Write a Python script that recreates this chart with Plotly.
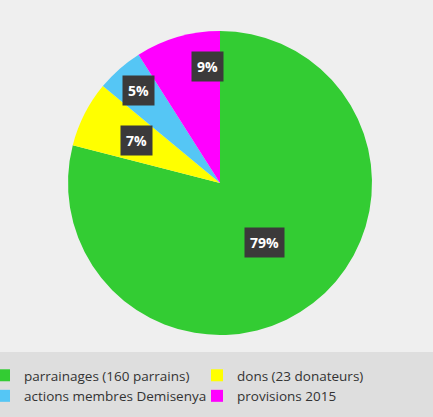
import math
import plotly.graph_objects as go

labels = ["parrainages (160 parrains)", "dons (23 donateurs)",
          "actions membres Demisenya", "provisions 2015"]
values = [79, 7, 5, 9]
colors = ["#33cc33", "#ffff00", "#55c6f5", "#ff00ff"]

W, H = 433, 417
B = 70                      # bottom margin holding the legend
PH = H - B                  # plot-area height
# pie domain (paper coords, relative to plot area)
dom_x = [68 / W, 372 / W]
dom_y = [1 - 335 / PH, 1 - 31 / PH]
cx = (dom_x[0] + dom_x[1]) / 2
cy = (dom_y[0] + dom_y[1]) / 2
R_px = (dom_y[1] - dom_y[0]) * PH / 2
label_radius = [0.49, 0.62, 0.81, 0.77]
label_angle_shift = [1, 0, 0, 10]

fig = go.Figure(go.Pie(
    labels=labels, values=values, sort=False, direction="clockwise",
    rotation=0, marker=dict(colors=colors, line=dict(width=0)),
    textinfo="none", domain=dict(x=dom_x, y=dom_y), showlegend=True,
))

total = sum(values)
cum = 0
annotations = []
for i, v in enumerate(values):
    mid = (cum + v / 2) / total * 360 + label_angle_shift[i]
    cum += v
    a = math.radians(mid)
    r = label_radius[i] * R_px
    x = cx + r * math.sin(a) / W
    y = cy + r * math.cos(a) / PH
    annotations.append(dict(
        x=x, y=y, xref="paper", yref="paper", showarrow=False,
        xanchor="center", yanchor="middle",
        text="<b>%d%%</b>" % round(v / total * 100),
        font=dict(family="Open Sans", size=14, color="white"),
        bgcolor="#3b3a3a", borderpad=5,
    ))

fig.update_layout(
    width=W, height=H,
    margin=dict(l=0, r=0, t=0, b=B, autoexpand=False),
    paper_bgcolor="#efefef",
    annotations=annotations,
    shapes=[dict(type="rect", xref="paper", yref="paper", x0=0, x1=1,
                 y0=-B / PH, y1=(PH - 352) / PH, fillcolor="#dedede",
                 line=dict(width=0), layer="below")],
    legend=dict(orientation="h", x=-16 / W, xanchor="left", y=(PH - 360) / PH,
                yanchor="top", entrywidth=168, bgcolor="rgba(0,0,0,0)",
                font=dict(family="Open Sans", size=13.5, color="#333333"),
                itemwidth=30, tracegroupgap=0),
)
fig.write_html("out.html", config={"displayModeBar": False},
               post_script="document.body.style.margin='0';")
